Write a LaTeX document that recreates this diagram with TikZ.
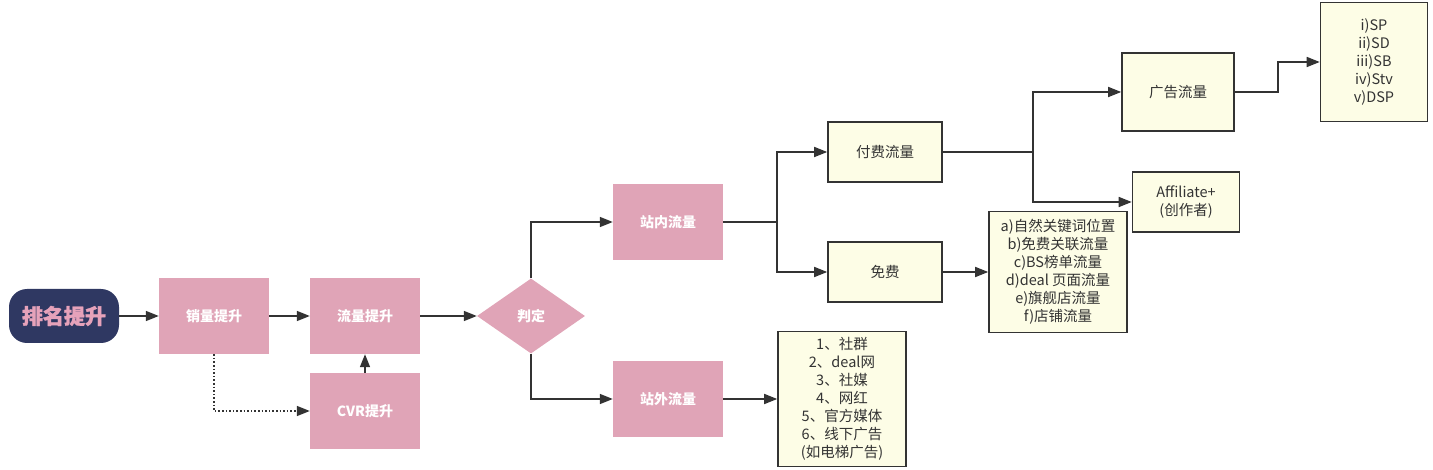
\documentclass[tikz,border=0pt]{standalone}
\usepackage{fontspec}
\setmainfont{Noto Sans CJK SC}
\usepackage{xcolor}
\usetikzlibrary{shapes.geometric, arrows.meta, positioning, calc}
\definecolor{navy}{HTML}{2F3862}
\definecolor{rosetext}{HTML}{E6A2BA}
\definecolor{rosebox}{HTML}{E0A4B7}
\definecolor{cream}{HTML}{FDFDE6}
\definecolor{linegray}{HTML}{333333}
\tikzstyle{arrow} = [line width=1.6pt, draw=linegray, ->, >={Triangle[length=13pt,width=10pt]}]

\begin{document}
\begin{tikzpicture}[x=1pt, y=-1pt, node distance=150pt]
\tikzstyle{start} = [rectangle, rounded corners=18pt, minimum width=110pt, minimum height=54pt, fill=navy, text=rosetext, font=\fontsize{21}{24}\selectfont\bfseries\addfontfeatures{FakeBold=1.5}]
\tikzstyle{process} = [rectangle, minimum width=110pt, minimum height=76pt, fill=rosebox, text=white, font=\fontsize{14}{17}\selectfont\bfseries]
\tikzstyle{decision} = [diamond, aspect=1.44, inner sep=0pt, minimum width=108pt, minimum height=75pt, fill=rosebox, text=white, font=\fontsize{14}{17}\selectfont\bfseries]
\tikzstyle{note} = [rectangle, draw=linegray, line width=1.6pt, fill=cream, text=linegray, align=center, font=\fontsize{14.5}{18}\selectfont]

\useasboundingbox (0,0) rectangle (1433,470);

\node (rank) [start] at (64,316) {排名提升};
\node (sales) [process, right of=rank] {销量提升};
\node (flow) [process, right of=sales, xshift=1pt] {流量提升};
\node (cvr) [process, below of=flow, yshift=55pt] {CVR提升};
\node (judge) [decision, right of=flow, xshift=16pt] {判定};
\node (inner) [process, right of=judge, xshift=-13pt, yshift=94pt] {站内流量};
\node (outer) [process, right of=judge, xshift=-13pt, yshift=-83pt] {站外流量};
\node (paid) [note, minimum width=114pt, minimum height=60pt, right of=inner, xshift=67pt, yshift=70pt] {付费流量};
\node (free) [note, minimum width=114pt, minimum height=60pt, right of=inner, xshift=67pt, yshift=-50pt] {免费};
\node (organic) [note, minimum width=138pt, minimum height=121pt, right of=free, xshift=23pt] {a)自然关键词位置\\b)免费关联流量\\c)BS榜单流量\\d)deal 页面流量\\e)旗舰店流量\\f)店铺流量};
\node (ads) [note, minimum width=112pt, minimum height=78pt, right of=paid, xshift=143pt, yshift=60pt] {广告流量};
\node (adlist) [note, minimum width=107pt, minimum height=119pt, right of=ads, xshift=46pt, yshift=30pt] {i)SP\\ii)SD\\iii)SB\\iv)Stv\\v)DSP};
\node (affiliate) [note, minimum width=107pt, minimum height=60pt, right of=paid, xshift=151pt, yshift=-50pt] {Affiliate+\\(创作者)};
\node (offsite) [note, minimum width=128pt, minimum height=135pt, right of=outer, xshift=24pt] {1、社群\\2、deal网\\3、社媒\\4、网红\\5、官方媒体\\6、线下广告\\(如电梯广告)};

\draw [arrow] (rank) -- (sales);
\draw [arrow] (sales) -- (flow);
\draw [arrow, dotted] (sales.south) |- (cvr.west);
\draw [arrow] (cvr) -- (flow);
\draw [arrow] (flow) -- (judge);
\draw [arrow] (judge.north) |- (inner.west);
\draw [arrow] (judge.south) |- (outer.west);
\draw [arrow] (inner.east) -- ++(54,0) |- (paid.west);
\draw [arrow] (inner.east) -- ++(54,0) |- (free.west);
\draw [arrow] (free) -- (organic);
\draw [arrow] (paid.east) -- ++(90,0) |- (ads.west);
\draw [arrow] (paid.east) -- ++(90,0) |- (affiliate.west);
\draw [arrow] (ads.east) -- ++(43,0) |- (adlist.west);
\draw [arrow] (outer) -- (offsite);

\end{tikzpicture}
\end{document}
